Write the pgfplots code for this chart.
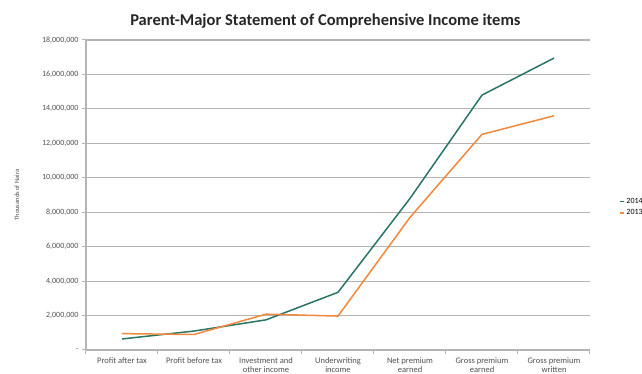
\documentclass[border=0pt]{standalone}
\usepackage{pgfplots}
\pgfplotsset{compat=1.18}
\usepackage{fontspec}
\setmainfont{Carlito}
\definecolor{teal14}{HTML}{2A7466}
\definecolor{orange13}{HTML}{F0883E}
\definecolor{gridg}{HTML}{B4B4B4}
\definecolor{txtg}{HTML}{505050}
\begin{document}
\begin{tikzpicture}
\begin{axis}[
  at={(0pt,0pt)}, anchor=south west,
  scale only axis, width=504pt, height=310pt,
  xmin=-0.5, xmax=6.5, ymin=0, ymax=18000000,
  scaled y ticks=false,
  axis lines*=left,
  axis line style={gridg, line width=1.2pt},
  ymajorgrids, grid style={gridg, line width=1.2pt},
  ytick={0,2000000,...,18000000},
  yticklabels={-,{2,000,000},{4,000,000},{6,000,000},{8,000,000},{10,000,000},{12,000,000},{14,000,000},{16,000,000},{18,000,000}},
  xtick={-0.5,0.5,...,6.5},
  x tick label as interval,
  xticklabels={Profit after tax,Profit before tax,Investment and\\other income,Underwriting\\income,Net premium\\earned,Gross premium\\earned,Gross premium\\written},
  xticklabel style={font=\fontsize{8.5}{9}\selectfont, text=txtg, align=center},
  yticklabel style={font=\fontsize{8}{9}\selectfont, text=txtg},
  /pgf/number format/assume math mode=true,
  tick style={gridg, line width=1pt},
  major tick length=4pt,
  tick align=outside,
  ylabel={Thousands of Naira},
  ylabel style={font=\fontsize{6.5}{7}\selectfont, text=txtg, at={(axis description cs:-0.137,0.5)}, anchor=center},
  title={\textbf{Parent-Major Statement of Comprehensive Income items}},
  title style={font=\fontsize{16.5}{18}\selectfont, text=black!85, at={(0.475,1)}, yshift=2pt},
  legend style={draw=none, fill=none, font=\fontsize{8}{9}\selectfont, at={(axis cs:6.9,8950000)}, anchor=north west, row sep=1pt, inner sep=0pt},
  legend image code/.code={\draw[#1, line width=1.5pt] (0pt,0pt) -- (4pt,0pt);},
  legend cell align=left,
]
\addplot[teal14, line width=1.5pt] coordinates {(0,640000) (1,1100000) (2,1750000) (3,3350000) (4,8800000) (5,14800000) (6,16950000)};
\addlegendentry{2014}
\addplot[orange13, line width=1.5pt] coordinates {(0,950000) (1,900000) (2,2080000) (3,1970000) (4,7700000) (5,12520000) (6,13600000)};
\addlegendentry{2013}
\end{axis}
\pgfresetboundingbox
\useasboundingbox (-86pt,-24pt) rectangle (556pt,350pt);
\end{tikzpicture}
\end{document}
